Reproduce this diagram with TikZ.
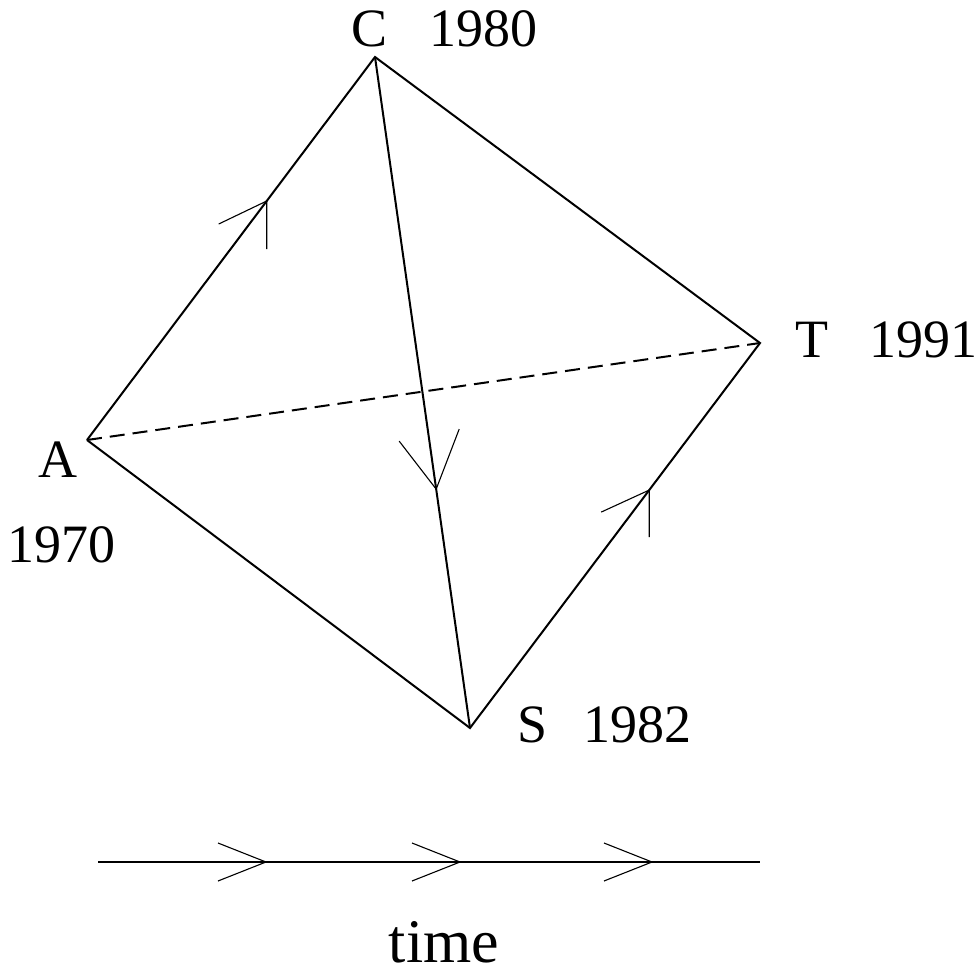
\documentclass[tikz,border=0pt]{standalone}
\usepackage{fontspec}
\setmainfont{Liberation Serif}
\usetikzlibrary{calc}

\begin{document}
\begin{tikzpicture}[x=1pt, y=-1pt,
    edge/.style={draw, line width=2pt},
    barb/.style={draw, line width=1.1pt},
    lbl/.style={anchor=base, inner sep=0pt, font=\fontsize{54}{60}\selectfont},
    biglbl/.style={anchor=base, inner sep=0pt, font=\fontsize{62}{70}\selectfont}
]
    \useasboundingbox (0,0) rectangle (977,974);

    \coordinate (A) at (87,440);
    \coordinate (C) at (375,57);
    \coordinate (T) at (760,343);
    \coordinate (S) at (470,728);

    \draw[edge] (A) -- (C) -- (T) -- (S) -- (A);
    \draw[edge] (C) -- (S);
    \draw[edge, dash pattern=on 15pt off 8pt] (A) -- (T);

    % arrow marks on the edges
    \coordinate (ac) at ($(A)!0.624!(C)$);
    \coordinate (cs) at ($(C)!0.644!(S)$);
    \coordinate (st) at ($(S)!0.618!(T)$);
    \draw[barb] ($(ac)+(-48,23)$) -- (ac) -- ++(0,48);
    \draw[barb] ($(cs)+(-37,-48)$) -- (cs) -- ++(23,-60);
    \draw[barb] ($(st)+(-48,22)$) -- (st) -- ++(0,47);

    \node[lbl] (lC) at (370,47) {C};
    \node[lbl] (yC) at (483,47) {1980};
    \node[lbl] (lA) at (58,477) {A};
    \node[lbl] (yA) at (61,562) {1970};
    \node[lbl] (lT) at (812,357) {T};
    \node[lbl] (yT) at (923,357) {1991};
    \node[lbl] (lS) at (533,742) {S};
    \node[lbl] (yS) at (637,742) {1982};

    % time axis
    \coordinate (t0) at (98,862);
    \coordinate (t1) at (760,862);
    \draw[barb] (t0) -- (t1);
    \foreach \x in {266,460,652}
        \draw[barb] (\x-48,843) -- (\x,862) -- (\x-48,881);
    \node[biglbl] (time) at (444,962) {time};
\end{tikzpicture}
\end{document}
